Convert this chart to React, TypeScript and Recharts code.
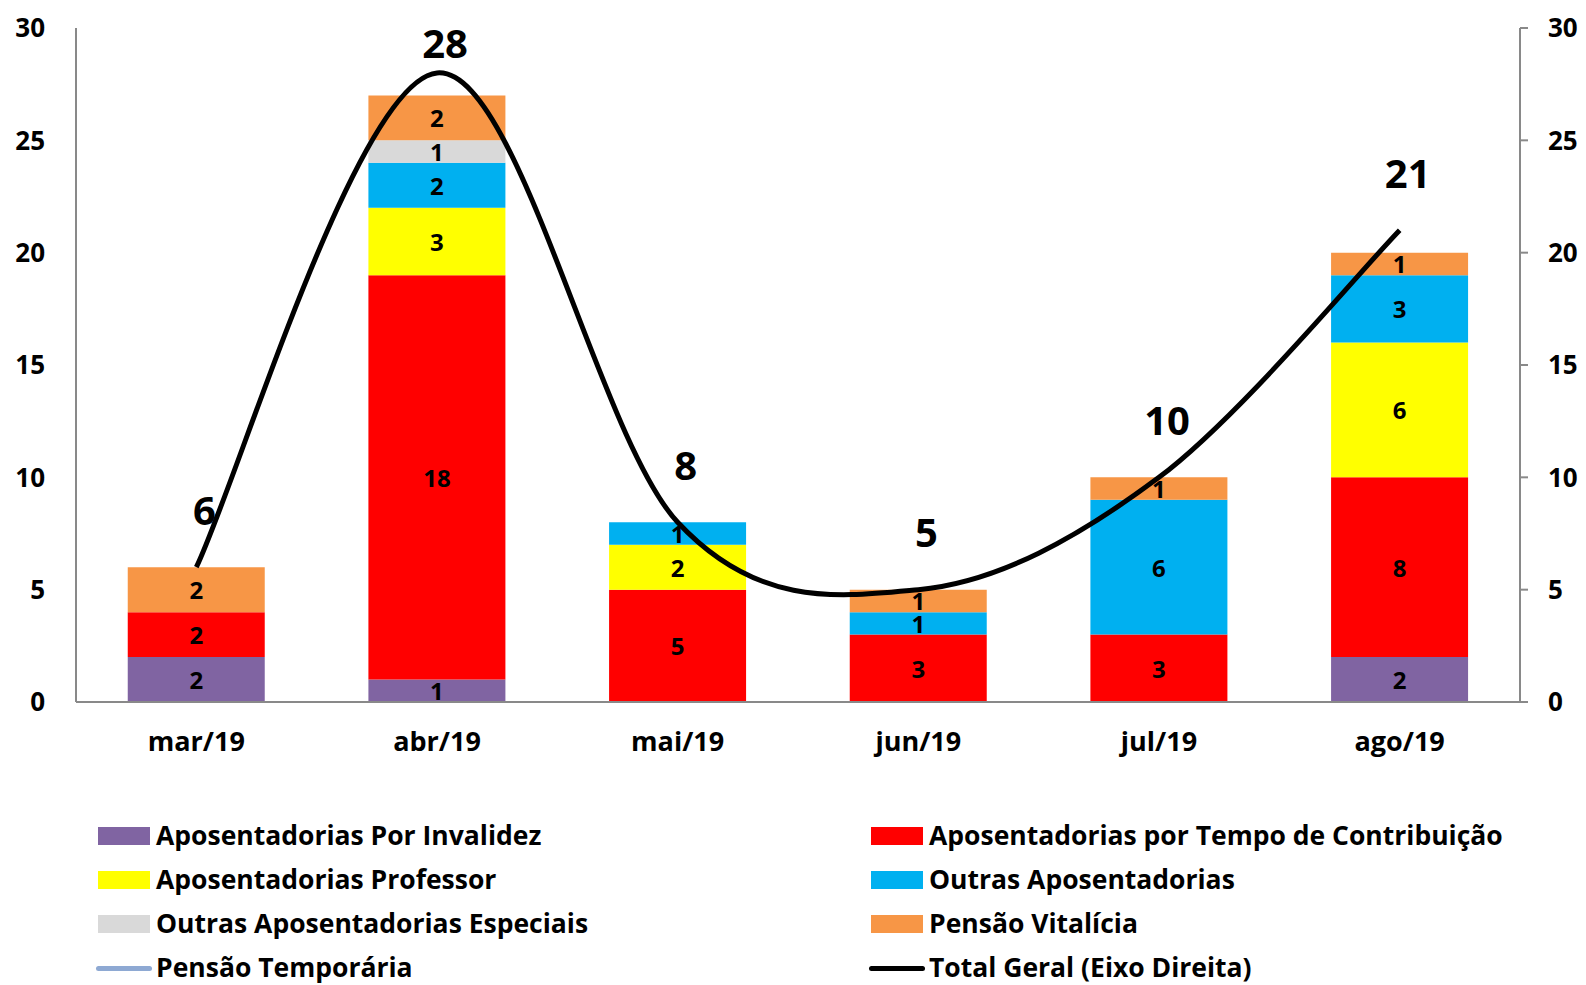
import { ComposedChart, Bar, Line, XAxis, YAxis, LabelList } from 'recharts';

const months = ['mar/19', 'abr/19', 'mai/19', 'jun/19', 'jul/19', 'ago/19'];
const invalidez = [2, 1, 0, 0, 0, 2];
const tempoContrib = [2, 18, 5, 3, 3, 8];
const professor = [0, 3, 2, 0, 0, 6];
const outras = [0, 2, 1, 1, 6, 3];
const especiais = [0, 1, 0, 0, 0, 0];
const vitalicia = [2, 2, 0, 1, 1, 1];
const temporaria = [null, null, null, null, null, null];
const totalGeral = [6, 28, 8, 5, 10, 21];
const axisTicks = [0, 5, 10, 15, 20, 25, 30];

const FONT = '"Open Sans", Lato, sans-serif';

const barSeries = [
    { key: 'invalidez', name: 'Aposentadorias Por Invalidez', color: '#8064A2' },
    { key: 'tempo', name: 'Aposentadorias por Tempo de Contribuição', color: '#FF0000' },
    { key: 'professor', name: 'Aposentadorias Professor', color: '#FFFF00' },
    { key: 'outras', name: 'Outras Aposentadorias', color: '#00B0F0' },
    { key: 'especiais', name: 'Outras Aposentadorias Especiais', color: '#D9D9D9' },
    { key: 'vitalicia', name: 'Pensão Vitalícia', color: '#F79646' },
];

const data = months.map((m, i) => ({
    month: m,
    invalidez: invalidez[i],
    tempo: tempoContrib[i],
    professor: professor[i],
    outras: outras[i],
    especiais: especiais[i],
    vitalicia: vitalicia[i],
    temporaria: temporaria[i],
    total: totalGeral[i],
}));

// legend order as in the original (two columns, row by row)
const legendItems = [
    ...barSeries.map((s) => ({ name: s.name, color: s.color, line: false })),
    { name: 'Pensão Temporária', color: '#8EA9D3', line: true },
    { name: 'Total Geral (Eixo Direita)', color: '#000000', line: true },
];

// Excel-style smoothed line (Catmull-Rom through the points)
const excelSmooth = (context: any) => {
    let pts: number[][] = [];
    return {
        areaStart() {},
        areaEnd() {},
        lineStart() {
            pts = [];
        },
        point(x: number, y: number) {
            pts.push([+x, +y]);
        },
        lineEnd() {
            if (!pts.length) return;
            context.moveTo(pts[0][0], pts[0][1]);
            for (let i = 0; i < pts.length - 1; i++) {
                const p0 = pts[i - 1] || pts[i];
                const p1 = pts[i];
                const p2 = pts[i + 1];
                const p3 = pts[i + 2] || p2;
                context.bezierCurveTo(
                    p1[0] + (p2[0] - p0[0]) / 6,
                    p1[1] + (p2[1] - p0[1]) / 6,
                    p2[0] - (p3[0] - p1[0]) / 6,
                    p2[1] - (p3[1] - p1[1]) / 6,
                    p2[0],
                    p2[1]
                );
            }
        },
    };
};

const SegmentLabel = (props: any) => {
    const { x, y, width, height, value } = props;
    if (!value) return null;
    return (
        <text
            x={x + width / 2}
            y={y + height / 2}
            textAnchor="middle"
            dominantBaseline="central"
            fontFamily={FONT}
            fontWeight={700}
            fontSize={24}
            fill="#000"
        >
            {value}
        </text>
    );
};

const TotalLabel = (props: any) => {
    const { x, y, value } = props;
    const ly = Math.max(y - 58, 42);
    return (
        <text
            x={x + 8}
            y={ly}
            textAnchor="middle"
            dominantBaseline="central"
            fontFamily={FONT}
            fontWeight={700}
            fontSize={40}
            fill="#000"
        >
            {value}
        </text>
    );
};

const tickStyle = { fontFamily: FONT, fontWeight: 700, fontSize: 26, fill: '#000' };

export default function App() {
    return (
        <div style={{ position: 'absolute', top: 0, left: 0, width: 1586, height: 985, background: '#fff' }}>
            <ComposedChart
                width={1586}
                height={785}
                data={data}
                barCategoryGap="21.5%"
                margin={{ top: 28, right: 0, bottom: 0, left: 0 }}
            >
                <XAxis
                    dataKey="month"
                    height={83}
                    tickLine={false}
                    axisLine={{ stroke: '#898989', strokeWidth: 2 }}
                    tickSize={0}
                    tickMargin={30}
                    tick={{ ...tickStyle, fontSize: 27 }}
                />
                <YAxis
                    yAxisId="left"
                    width={76}
                    domain={[0, 30]}
                    ticks={axisTicks}
                    tickLine={false}
                    tickSize={0}
                    tickMargin={31}
                    axisLine={{ stroke: '#898989', strokeWidth: 2 }}
                    tick={tickStyle}
                />
                <YAxis
                    yAxisId="right"
                    orientation="right"
                    width={66}
                    domain={[0, 30]}
                    ticks={axisTicks}
                    tickSize={8}
                    tickMargin={20}
                    tickLine={{ stroke: '#898989', strokeWidth: 2 }}
                    axisLine={{ stroke: '#898989', strokeWidth: 2 }}
                    tick={{ ...tickStyle, textAnchor: 'start' }}
                />
                {barSeries.map((s) => (
                    <Bar
                        key={s.key}
                        yAxisId="left"
                        dataKey={s.key}
                        name={s.name}
                        stackId="a"
                        fill={s.color}
                        isAnimationActive={false}
                    >
                        <LabelList dataKey={s.key} content={<SegmentLabel />} />
                    </Bar>
                ))}
                <Line
                    yAxisId="right"
                    dataKey="temporaria"
                    name="Pensão Temporária"
                    stroke="#8EA9D3"
                    strokeWidth={4}
                    dot={false}
                    isAnimationActive={false}
                />
                <Line
                    yAxisId="right"
                    type={excelSmooth as any}
                    dataKey="total"
                    name="Total Geral (Eixo Direita)"
                    stroke="#000"
                    strokeWidth={5}
                    dot={false}
                    isAnimationActive={false}
                >
                    <LabelList dataKey="total" content={<TotalLabel />} />
                </Line>
            </ComposedChart>
            <div
                style={{
                    position: 'absolute',
                    top: 814,
                    left: 96,
                    display: 'grid',
                    gridTemplateColumns: '773px 700px',
                    fontFamily: FONT,
                    fontWeight: 700,
                    fontSize: 26.5,
                    lineHeight: 1.2,
                    color: '#000',
                }}
            >
                {legendItems.map((item) => (
                    <div key={item.name} style={{ display: 'flex', alignItems: 'center', height: 44, whiteSpace: 'nowrap' }}>
                        {item.line ? (
                            <span style={{ display: 'inline-block', width: 56, height: 5, borderRadius: 3, background: item.color, marginRight: 4 }} />
                        ) : (
                            <span style={{ display: 'inline-block', width: 52, height: 18, marginLeft: 2, background: item.color, marginRight: 6 }} />
                        )}
                        <span>{item.name}</span>
                    </div>
                ))}
            </div>
        </div>
    );
}
